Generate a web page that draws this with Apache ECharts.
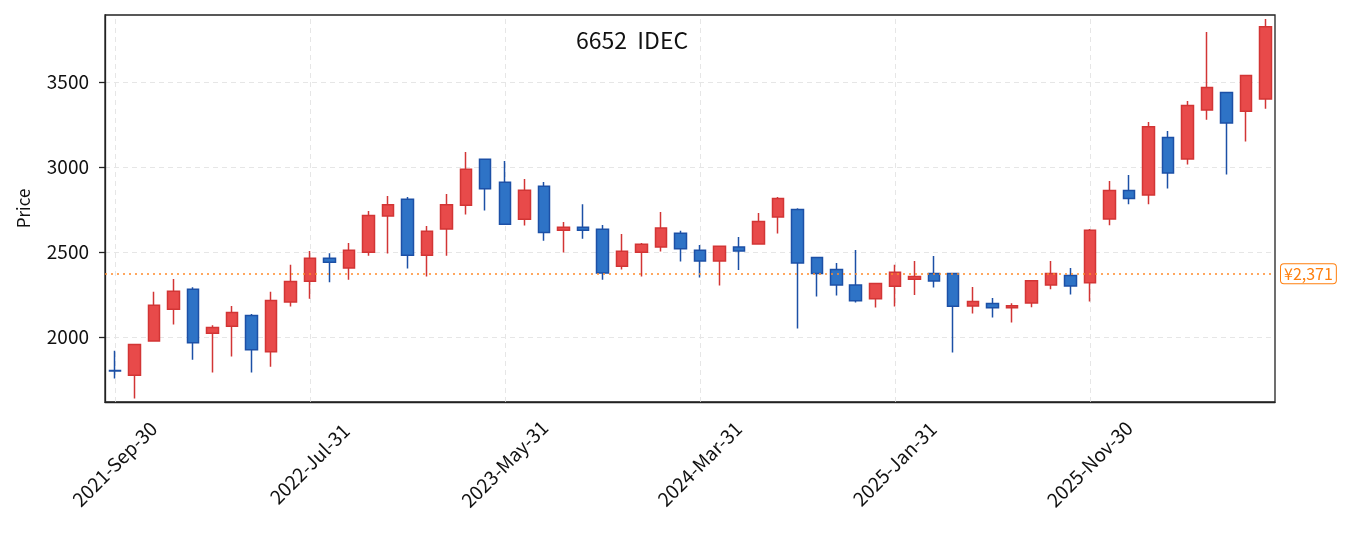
<!DOCTYPE html>
<html lang="ja">
<head>
    <meta charset="UTF-8">
    <title>6652 IDEC</title>
    <style>
        html, body { margin: 0; padding: 0; background: #fff; }
        #container { width: 1355px; height: 533px; }
    </style>
</head>
<body>
    <div id="container"></div>
    <script src="https://cdn.jsdelivr.net/npm/echarts@6.0.0/dist/echarts.min.js"></script>
    <script>
        // month-end dates
        const dates = [
            '2021-Sep-30', '2021-Oct-31', '2021-Nov-30', '2021-Dec-31',
            '2022-Jan-31', '2022-Feb-28', '2022-Mar-31', '2022-Apr-30', '2022-May-31', '2022-Jun-30',
            '2022-Jul-31', '2022-Aug-31', '2022-Sep-30', '2022-Oct-31', '2022-Nov-30', '2022-Dec-31',
            '2023-Jan-31', '2023-Feb-28', '2023-Mar-31', '2023-Apr-30', '2023-May-31', '2023-Jun-30',
            '2023-Jul-31', '2023-Aug-31', '2023-Sep-30', '2023-Oct-31', '2023-Nov-30', '2023-Dec-31',
            '2024-Jan-31', '2024-Feb-29', '2024-Mar-31', '2024-Apr-30', '2024-May-31', '2024-Jun-30',
            '2024-Jul-31', '2024-Aug-31', '2024-Sep-30', '2024-Oct-31', '2024-Nov-30', '2024-Dec-31',
            '2025-Jan-31', '2025-Feb-28', '2025-Mar-31', '2025-Apr-30', '2025-May-31', '2025-Jun-30',
            '2025-Jul-31', '2025-Aug-31', '2025-Sep-30', '2025-Oct-31', '2025-Nov-30', '2025-Dec-31',
            '2026-Jan-31', '2026-Feb-28', '2026-Mar-31', '2026-Apr-30', '2026-May-31', '2026-Jun-30',
            '2026-Jul-31', '2026-Aug-31'
        ];

        const opens = [
            1802, 1775, 1976, 2163, 2280, 2021, 2063, 2126, 1912, 2205,
            2327, 2463, 2406, 2498, 2712, 2810, 2480, 2635, 2774, 3045,
            2910, 2692, 2886, 2627, 2645, 2633, 2416, 2498, 2529, 2610,
            2510, 2447, 2529, 2547, 2706, 2750, 2467, 2396, 2306, 2224,
            2298, 2339, 2373, 2373, 2182, 2196, 2171, 2200, 2306, 2361,
            2318, 2694, 2861, 2835, 3173, 3047, 3335, 3438, 3328, 3400
        ];
        const closes = [
            1800, 1955, 2186, 2269, 1965, 2055, 2143, 1924, 2214, 2326,
            2463, 2439, 2510, 2715, 2778, 2480, 2621, 2778, 2986, 2871,
            2663, 2863, 2615, 2645, 2627, 2376, 2504, 2545, 2641, 2518,
            2447, 2533, 2506, 2679, 2815, 2435, 2373, 2306, 2212, 2314,
            2380, 2355, 2329, 2181, 2209, 2171, 2184, 2331, 2373, 2300,
            2627, 2861, 2815, 3237, 2965, 3361, 3467, 3259, 3538, 3825
        ];
        const lows = [
            1755, 1637, 1974, 2073, 1866, 1790, 1884, 1790, 1825, 2179,
            2225, 2321, 2337, 2478, 2490, 2402, 2355, 2478, 2720, 2743,
            2660, 2655, 2566, 2496, 2578, 2337, 2396, 2355, 2502, 2443,
            2349, 2302, 2394, 2545, 2608, 2049, 2237, 2243, 2202, 2173,
            2179, 2247, 2290, 1908, 2137, 2114, 2085, 2174, 2280, 2249,
            2208, 2657, 2780, 2780, 2873, 3014, 3278, 2955, 3149, 3343
        ];
        const highs = [
            1918, 1958, 2265, 2341, 2292, 2069, 2182, 2135, 2265, 2424,
            2506, 2492, 2553, 2741, 2829, 2823, 2653, 2841, 3088, 3048,
            3035, 2929, 2912, 2676, 2780, 2659, 2606, 2553, 2735, 2625,
            2541, 2535, 2588, 2729, 2823, 2757, 2469, 2435, 2512, 2316,
            2424, 2447, 2476, 2375, 2294, 2229, 2198, 2333, 2447, 2406,
            2635, 2918, 2953, 3265, 3212, 3388, 3794, 3440, 3540, 3870
        ];

        const yTicks = [2000, 2500, 3000, 3500];
        const xTickDates = ['2021-Sep-30', '2022-Jul-31', '2023-May-31', '2024-Mar-31', '2025-Jan-31', '2025-Nov-30'];
        const refPrice = 2371;

        // echarts wants [open, close, low, high]
        const ohlc = dates.map((d, i) => [opens[i], closes[i], lows[i], highs[i]]);

        const FONT = '"Noto Sans CJK JP", "Noto Sans", sans-serif';
        const gridStyle = { color: '#e6e6e6', type: [5, 4], width: 1 };

        const option = {
            animation: false,
            textStyle: { fontFamily: FONT },
            title: {
                text: '6652  IDEC',
                left: 571,
                top: 24,
                textStyle: { fontFamily: FONT, fontSize: 23, fontWeight: 'normal', color: '#111' }
            },
            grid: {
                left: 105, right: 80, top: 15, bottom: 131,
                show: true, borderColor: '#222', borderWidth: 1.3
            },
            xAxis: {
                type: 'category',
                data: dates,
                boundaryGap: true,
                axisLine: { lineStyle: { color: '#222', width: 1.3 } },
                axisTick: { interval: 9, alignWithLabel: true, length: 5, lineStyle: { color: '#222', width: 1.3 } },
                axisLabel: {
                    interval: 9,
                    rotate: 45,
                    align: 'center',
                    verticalAlign: 'middle',
                    margin: 62,
                    fontSize: 19,
                    color: '#111',
                    fontFamily: FONT
                },
                splitLine: { show: false }
            },
            yAxis: {
                type: 'value',
                min: 1617,
                max: 3894,
                name: 'Price',
                nameLocation: 'middle',
                nameGap: 73,
                nameTextStyle: { fontSize: 17, color: '#111', fontFamily: FONT },
                axisLine: { show: true, lineStyle: { color: '#222', width: 1.3 } },
                axisTick: { show: true, length: 6, customValues: yTicks, lineStyle: { color: '#222', width: 1.3 } },
                axisLabel: {
                    customValues: yTicks,
                    formatter: v => String(v),
                    fontSize: 19, color: '#111', margin: 16, fontFamily: FONT
                },
                splitLine: { show: true, lineStyle: gridStyle }
            },
            series: [{
                // vertical grid lines at the labelled months, kept behind the candles
                type: 'line',
                data: [],
                silent: true,
                z: 0,
                markLine: {
                    silent: true,
                    z: 0,
                    symbol: 'none',
                    label: { show: false },
                    lineStyle: gridStyle,
                    data: xTickDates.map(d => ({ xAxis: d }))
                }
            }, {
                type: 'candlestick',
                data: ohlc,
                barWidth: 12,
                itemStyle: {
                    color: '#e84a4a',
                    borderColor: '#d23535',
                    color0: '#2e73c6',
                    borderColor0: '#1c50a6',
                    borderWidth: 1.5
                },
                markLine: {
                    silent: true,
                    symbol: 'none',
                    lineStyle: { color: '#ff8a2a', type: [2, 4], width: 1.6 },
                    label: {
                        position: 'end',
                        distance: 6,
                        formatter: '¥2,371',
                        color: '#ff7f0e',
                        fontSize: 16,
                        fontFamily: FONT,
                        backgroundColor: '#fff',
                        borderColor: '#ff7f0e',
                        borderWidth: 1,
                        borderRadius: 3,
                        padding: [2, 3, 1, 3]
                    },
                    data: [{ yAxis: refPrice }]
                }
            }]
        };

        const chart = echarts.init(document.getElementById('container'));
        chart.setOption(option);
    </script>
</body>
</html>
